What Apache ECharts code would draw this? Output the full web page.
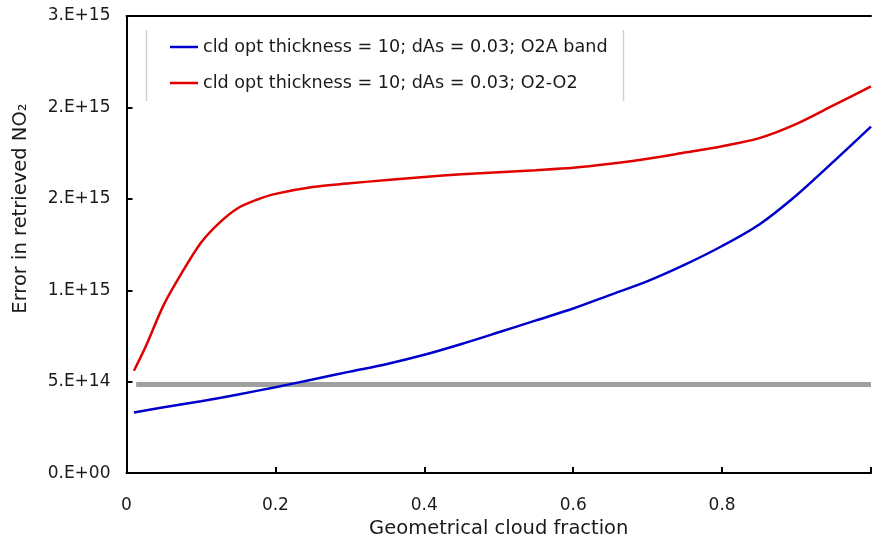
<!DOCTYPE html>
<html>
<head>
<meta charset="utf-8">
<script src="https://cdn.jsdelivr.net/npm/echarts@6/dist/echarts.min.js"></script>
<style>
html,body{margin:0;padding:0;background:#fff;}
#chart{width:874px;height:544px;}
</style>
</head>
<body>
<div id="chart"></div>
<script>
var blueX = [0.01, 0.05, 0.1, 0.15, 0.2, 0.25, 0.3, 0.35, 0.4, 0.45, 0.5, 0.55, 0.6, 0.65, 0.7, 0.75, 0.8, 0.85, 0.9, 0.95, 1.0];
var blueY = [3.32e14, 3.6e14, 3.93e14, 4.3e14, 4.70e14, 5.12e14, 5.55e14, 5.97e14, 6.47e14, 7.06e14, 7.70e14, 8.35e14, 9.0e14, 9.75e14, 1.05e15, 1.14e15, 1.242e15, 1.36e15, 1.52e15, 1.705e15, 1.895e15];
var redX = [0.01, 0.025, 0.05, 0.075, 0.1, 0.125, 0.15, 0.175, 0.2, 0.25, 0.3, 0.35, 0.4, 0.45, 0.5, 0.55, 0.6, 0.65, 0.7, 0.75, 0.8, 0.85, 0.9, 0.95, 1.0];
var redY = [5.6e14, 6.85e14, 9.2e14, 1.10e15, 1.26e15, 1.37e15, 1.45e15, 1.495e15, 1.527e15, 1.565e15, 1.585e15, 1.603e15, 1.620e15, 1.634e15, 1.646e15, 1.657e15, 1.670e15, 1.692e15, 1.719e15, 1.753e15, 1.788e15, 1.832e15, 1.910e15, 2.012e15, 2.115e15];
var grayX = [0.013, 1.0];
var grayY = [4.84e14, 4.84e14];
var seriesNames = ['cld opt thickness = 10; dAs = 0.03; O2A band', 'cld opt thickness = 10; dAs = 0.03; O2-O2'];
var xMin = 0, xMax = 1, xStep = 0.2;
var yMin = 0, yMax = 2.5e15, yStep = 5e14;
var xTitle = 'Geometrical cloud fraction';
var yTitle = 'Error in retrieved NO₂';

function zip(xs, ys){ return xs.map(function(x,i){ return [x, ys[i]]; }); }
function sciFmt(v){
  if (v === 0) return '0.E+00';
  var e = Math.floor(Math.log10(v) + 1e-9);
  var m = Math.round(v / Math.pow(10, e));
  if (m >= 10) { m = 1; e += 1; }
  return m + '.E+' + (e < 10 ? '0' + e : e);
}
var txt = '#1a1a1a';
var font = '"DejaVu Sans", Verdana, sans-serif';
var chart = echarts.init(document.getElementById('chart'), null, {renderer:'canvas'});
chart.setOption({
  animation: false,
  backgroundColor: '#fff',
  textStyle: {fontFamily: font},
  grid: {left: 126.5, top: 16, width: 751.5, height: 464},
  legend: {
    orient: 'vertical', left: 165, top: 32, icon: 'rect', itemWidth: 28, itemHeight: 2.5, itemGap: 16,
    textStyle: {fontSize: 17.6, lineHeight: 20, color: txt, fontFamily: font},
    data: seriesNames
  },
  xAxis: [{
    type: 'value', min: xMin, max: xMax, interval: xStep,
    name: xTitle, nameLocation: 'middle', nameGap: 44,
    nameTextStyle: {fontSize: 19.5, color: txt, fontFamily: font},
    axisLine: {lineStyle: {color: '#000', width: 2}},
    axisTick: {inside: true, length: 6, lineStyle: {color: '#000', width: 2}},
    axisLabel: {fontSize: 17, color: txt, margin: 24, fontFamily: font,
      formatter: function(v){ return v >= 1 ? '' : String(Math.round(v*10)/10); }},
    splitLine: {show: false}
  }, {
    type: 'value', position: 'top', min: xMin, max: xMax,
    axisLine: {show: true, onZero: false, lineStyle: {color: '#000', width: 2}},
    axisTick: {show: false}, axisLabel: {show: false}, splitLine: {show: false}
  }],
  yAxis: {
    type: 'value', min: yMin, max: yMax, interval: yStep,
    name: yTitle, nameLocation: 'middle', nameGap: 96, nameRotate: 90,
    nameTextStyle: {fontSize: 19.5, color: txt, fontFamily: font, padding: [0, 0, 0, 72]},
    axisLine: {show: true, lineStyle: {color: '#000', width: 2}},
    axisTick: {show: true, inside: true, length: 6, lineStyle: {color: '#000', width: 2}},
    axisLabel: {fontSize: 17, color: txt, margin: 16, fontFamily: font, formatter: sciFmt},
    splitLine: {show: false}
  },
  series: [
    {name: 'gray', type: 'line', data: zip(grayX, grayY), symbol: 'none', lineStyle: {color: '#a0a0a0', width: 5}, z: 1},
    {name: seriesNames[0], type: 'line', data: zip(blueX, blueY), symbol: 'none', smooth: 0.3,
      color: '#0000CC', lineStyle: {color: '#0000CC', width: 2.5}, z: 3},
    {name: seriesNames[1], type: 'line', data: zip(redX, redY), symbol: 'none', smooth: 0.3,
      color: '#E00000', lineStyle: {color: '#E00000', width: 2.5}, z: 3}
  ],
  graphic: [
    {type: 'line', shape: {x1: 146.5, y1: 30, x2: 146.5, y2: 101}, style: {stroke: '#d0d0d0', lineWidth: 1.5}},
    {type: 'line', shape: {x1: 623.5, y1: 30, x2: 623.5, y2: 101}, style: {stroke: '#d0d0d0', lineWidth: 1.5}}
  ]
});
</script>
</body>
</html>
